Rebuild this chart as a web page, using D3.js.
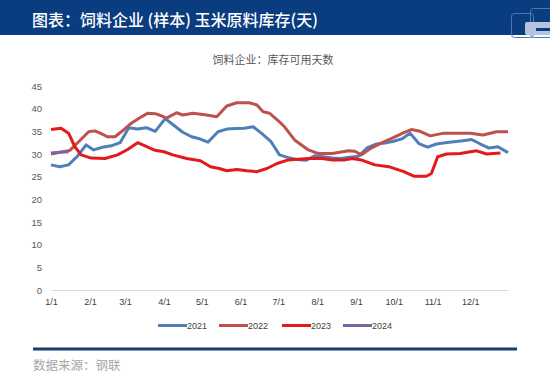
<!DOCTYPE html>
<html><head><meta charset="utf-8">
<script src="https://cdn.jsdelivr.net/npm/d3@7"></script>
<style>body{margin:0;background:#fff;}svg{display:block;}</style>
</head><body>
<svg id="c" width="550" height="379"></svg>
<script>
const yTicks = [0,5,10,15,20,25,30,35,40,45];
const xTickLabels = ["1/1","2/1","3/1","4/1","5/1","6/1","7/1","8/1","9/1","10/1","11/1","12/1"];
const seriesNames = ["2021","2022","2023","2024"];
const seriesColors = ["#4f7fb8","#bd514e","#e3191c","#8064a2"];

const dates2021 = ["1/1","1/8","1/15","1/22","1/29","2/4","2/11","2/18","2/25","3/4","3/11","3/18","3/25","4/2","4/9","4/16","4/23","4/30","5/6","5/14","5/21","5/28","6/4","6/11","6/18","6/25","7/2","7/9","7/16","7/23","7/30","8/6","8/13","8/20","8/27","9/3","9/10","9/17","9/24","10/1","10/8","10/14","10/21","10/28","11/4","11/11","11/18","11/25","12/2","12/9","12/16","12/23","12/31"];
const values2021 = [27.6,27.2,27.6,29.5,32.0,30.9,31.5,31.8,32.5,35.8,35.5,35.8,35.0,37.8,36.3,34.8,33.8,33.3,32.6,34.9,35.5,35.6,35.7,36.0,34.5,32.8,29.8,29.2,28.8,28.6,29.6,29.4,29.1,29.0,29.3,29.5,31.4,32.2,32.4,32.8,33.4,34.6,32.3,31.5,32.2,32.5,32.7,32.9,33.2,32.2,31.3,31.6,30.3];

const dates2022 = ["1/1","1/16","1/23","1/31","2/5","2/10","2/15","2/21","2/26","3/6","3/14","3/19","3/25","3/30","4/3","4/11","4/16","4/24","5/5","5/13","5/21","5/29","6/8","6/14","6/19","6/24","7/2","7/6","7/14","7/25","8/2","8/13","8/26","8/31","9/5","9/13","9/21","10/2","10/9","10/15","10/22","10/30","11/10","12/1","12/11","12/22","12/31"];
const values2022 = [30.0,30.8,32.7,34.9,35.1,34.5,33.8,33.8,34.9,36.8,38.2,39.0,38.9,38.4,37.9,39.1,38.6,39.0,38.6,38.2,40.6,41.3,41.3,40.8,39.3,39.0,37.1,36.0,33.1,30.9,30.1,30.1,30.7,30.6,29.8,31.3,32.4,33.8,34.7,35.4,35.0,34.0,34.6,34.6,34.2,34.9,34.9];

const dates2023 = ["1/1","1/9","1/15","1/20","1/25","2/2","2/13","2/23","3/3","3/11","3/16","3/24","4/1","4/8","4/19","4/30","5/8","5/15","5/21","5/29","6/6","6/14","6/22","6/30","7/9","7/25","8/5","8/13","8/23","8/29","9/5","9/16","9/27","10/9","10/17","10/27","10/31","11/5","11/12","11/23","12/1","12/6","12/14","12/25"];
const values2023 = [35.4,35.7,34.6,31.6,29.8,29.1,29.0,29.8,31.0,32.5,31.9,30.9,30.5,29.8,29.0,28.5,27.2,26.8,26.3,26.6,26.3,26.1,26.8,27.9,28.7,29.0,29.0,28.7,28.7,29.0,28.7,27.6,27.2,26.1,25.1,25.1,25.7,29.4,30.0,30.1,30.5,30.7,30.0,30.2];

const dates2024 = ["1/1","1/8","1/15"];
const values2024 = [30.2,30.4,30.5];

const svg = d3.select("#c");
const parse = s => { const [m,d] = s.split("/").map(Number); return new Date(2021, m-1, d); };

// header
svg.append("rect").attr("x",0).attr("y",0).attr("width",550).attr("height",35).attr("fill","#0a3c80");
svg.append("text").attr("x",32).attr("y",26).attr("fill","#fff")
  .attr("font-family","'Noto Sans CJK SC','Noto Sans',sans-serif").attr("font-size",16).attr("font-weight",500)
  .text("图表：饲料企业 (样本) 玉米原料库存(天)");
// logo
const lg = svg.append("g");
lg.append("rect").attr("x",511.5).attr("y",13.5).attr("width",22).attr("height",24).attr("rx",3).attr("fill","none").attr("stroke","#4f78b0").attr("stroke-width",1);
lg.append("rect").attr("x",530.5).attr("y",8.5).attr("width",24).attr("height",29).attr("rx",3).attr("fill","none").attr("stroke","#4f78b0").attr("stroke-width",1);
lg.append("rect").attr("x",525).attr("y",22).attr("width",30).attr("height",13).attr("rx",2).attr("fill","#b4c4dc");
lg.append("rect").attr("x",536).attr("y",28).attr("width",14).attr("height",3).attr("fill","#0a3c80");

// chart title
svg.append("text").attr("x",273).attr("y",64).attr("text-anchor","middle").attr("fill","#595959")
  .attr("font-family","'Noto Sans CJK SC',sans-serif").attr("font-size",11).text("饲料企业：库存可用天数");

const x = d3.scaleTime().domain([new Date(2021,0,1), new Date(2021,11,31)]).range([51,508]);
const y = d3.scaleLinear().domain([0,45]).range([290,86]);

// y axis labels
const ya = svg.append("g").attr("transform","translate(42,0)")
  .call(d3.axisLeft(y).tickValues(yTicks).tickSize(0).tickPadding(0));
ya.select(".domain").remove();
ya.selectAll("text").attr("fill","#595959").attr("font-size",9.5).attr("font-family","'Liberation Sans',Arial,sans-serif");

// x axis
const xa = svg.append("g").attr("transform","translate(0,290)")
  .call(d3.axisBottom(x).tickValues(xTickLabels.map(parse)).tickSize(0).tickPadding(9)
    .tickFormat((d,i)=>xTickLabels[i]));
xa.select(".domain").attr("stroke","#d9d9d9").attr("stroke-width",1);
xa.selectAll("text").attr("fill","#404040").attr("font-size",9).attr("font-family","'Liberation Sans',Arial,sans-serif");

const line = d3.line().x(d=>x(d[0])).y(d=>y(d[1]));
const allDates = [dates2021,dates2022,dates2023,dates2024];
const allVals = [values2021,values2022,values2023,values2024];
allDates.forEach((ds,i)=>{
  const pts = ds.map((s,j)=>[parse(s), allVals[i][j]]);
  svg.append("path").datum(pts).attr("d",line).attr("fill","none")
    .attr("stroke",seriesColors[i]).attr("stroke-width",3).attr("stroke-linejoin","round");
});

// legend
const legX = [158,219,282,343];
seriesNames.forEach((n,i)=>{
  svg.append("line").attr("x1",legX[i]).attr("x2",legX[i]+29).attr("y1",325.5).attr("y2",325.5)
    .attr("stroke",seriesColors[i]).attr("stroke-width",3);
  svg.append("text").attr("x",legX[i]+29).attr("y",329).attr("fill","#404040")
    .attr("font-size",9).attr("font-family","'Liberation Sans',Arial,sans-serif").text(n);
});

// footer
svg.append("rect").attr("x",33).attr("y",347.5).attr("width",484).attr("height",3).attr("fill","#1f3d6e");
svg.append("text").attr("x",33).attr("y",370).attr("fill","#a6a6a6")
  .attr("font-family","'Noto Sans CJK SC',sans-serif").attr("font-size",12.5).text("数据来源：钢联");
</script>
</body></html>
